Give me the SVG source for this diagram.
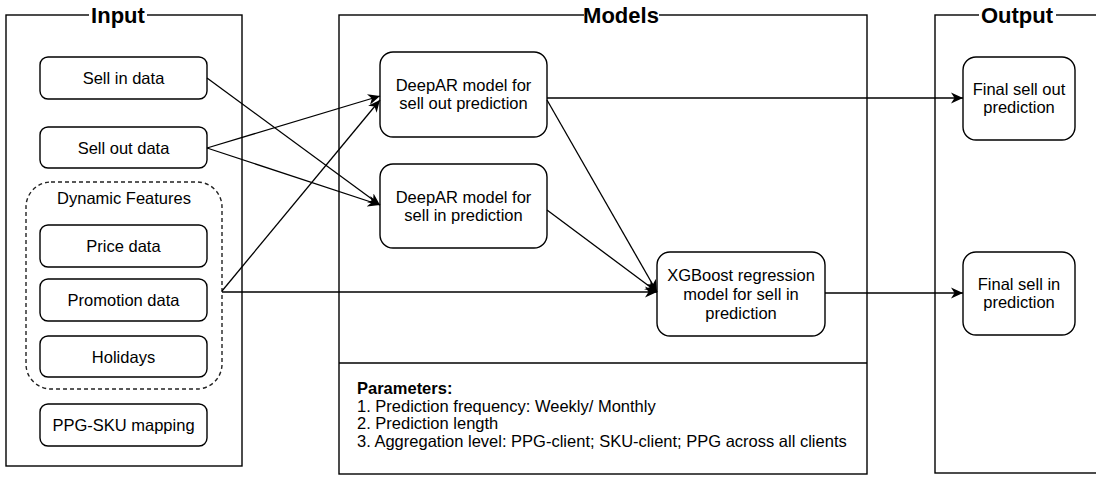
<svg xmlns="http://www.w3.org/2000/svg" width="1096" height="477" viewBox="0 0 1096 477">
<style>
  .frame{fill:#fff;stroke:#000;stroke-width:1.4}
  .box{fill:#fff;stroke:#000;stroke-width:1.4}
  .dash{fill:none;stroke:#222;stroke-width:1.4;stroke-dasharray:4 3}
  .t{font-family:"Liberation Sans",Arial,sans-serif;font-size:16.5px;fill:#000;text-anchor:middle}
  .title{font-family:"Liberation Sans",Arial,sans-serif;font-size:22px;font-weight:bold;fill:#000;text-anchor:middle}
  .p{font-family:"Liberation Sans",Arial,sans-serif;font-size:16.5px;fill:#000}
  .c{fill:none;stroke:#000;stroke-width:1.3}
</style>
<defs>
  <marker id="arr" markerUnits="userSpaceOnUse" markerWidth="14" markerHeight="12" refX="12" refY="6" orient="auto" viewBox="0 0 14 12">
    <path d="M0,0.5 L12,6 L0,11.5 L3.5,6 Z" fill="#000"/>
  </marker>
</defs>
<rect width="1096" height="477" fill="#fff"/>

<g id="input-frame">
  <rect class="frame" x="6" y="15" width="236" height="451"/>
  <rect x="89" y="4" width="58" height="22" fill="#fff"/>
  <text class="title" x="118" y="23">Input</text>
</g>
<g id="models-frame">
  <rect class="frame" x="339" y="15" width="528" height="459"/>
  <line class="frame" x1="339" y1="363" x2="867" y2="363"/>
  <rect x="584" y="4" width="75" height="22" fill="#fff"/>
  <text class="title" x="621" y="23">Models</text>
</g>
<g id="output-frame">
  <rect class="frame" x="935" y="15" width="200" height="458"/>
  <rect x="979" y="4" width="77" height="22" fill="#fff"/>
  <text class="title" x="1017" y="23">Output</text>
</g>

<g id="sell-in-data">
  <rect class="box" x="40" y="57" width="167" height="42" rx="8"/>
  <text class="t" x="123.5" y="84">Sell in data</text>
</g>
<g id="sell-out-data">
  <rect class="box" x="40" y="127" width="167" height="41" rx="8"/>
  <text class="t" x="123.5" y="153.5">Sell out data</text>
</g>
<g id="dynamic-features">
  <rect class="dash" x="26" y="182" width="196" height="207" rx="25"/>
  <text class="t" x="124" y="204">Dynamic Features</text>
</g>
<g id="price-data">
  <rect class="box" x="40" y="225" width="167" height="42" rx="8"/>
  <text class="t" x="123.5" y="252">Price data</text>
</g>
<g id="promotion-data">
  <rect class="box" x="40" y="279" width="167" height="42" rx="8"/>
  <text class="t" x="123.5" y="306">Promotion data</text>
</g>
<g id="holidays">
  <rect class="box" x="40" y="336" width="167" height="41" rx="8"/>
  <text class="t" x="123.5" y="362.5">Holidays</text>
</g>
<g id="ppg-sku-mapping">
  <rect class="box" x="40" y="404" width="167" height="42" rx="8"/>
  <text class="t" x="123.5" y="431">PPG-SKU mapping</text>
</g>

<g id="deepar-sell-out">
  <rect class="box" x="380" y="52" width="167" height="85" rx="13"/>
  <text class="t" x="463.5" y="91">DeepAR model for</text>
  <text class="t" x="463.5" y="109">sell out prediction</text>
</g>
<g id="deepar-sell-in">
  <rect class="box" x="380" y="164" width="167" height="84" rx="13"/>
  <text class="t" x="463.5" y="202.5">DeepAR model for</text>
  <text class="t" x="463.5" y="220.5">sell in prediction</text>
</g>
<g id="xgboost">
  <rect class="box" x="657" y="252" width="168" height="84" rx="13"/>
  <text class="t" x="741" y="281">XGBoost regression</text>
  <text class="t" x="741" y="300">model for sell in</text>
  <text class="t" x="741" y="319">prediction</text>
</g>
<g id="final-sell-out">
  <rect class="box" x="963" y="57" width="112" height="83" rx="13"/>
  <text class="t" x="1019" y="95">Final sell out</text>
  <text class="t" x="1019" y="113">prediction</text>
</g>
<g id="final-sell-in">
  <rect class="box" x="963" y="252" width="112" height="83" rx="13"/>
  <text class="t" x="1019" y="290">Final sell in</text>
  <text class="t" x="1019" y="308">prediction</text>
</g>

<g id="parameters">
  <text class="p" x="357" y="394" font-weight="bold">Parameters:</text>
  <text class="p" x="357" y="411.5">1. Prediction frequency: Weekly/ Monthly</text>
  <text class="p" x="357" y="429">2. Prediction length</text>
  <text class="p" x="357" y="446.5">3. Aggregation level: PPG-client; SKU-client; PPG across all clients</text>
</g>

<g id="connectors">
  <path class="c" d="M207,78 L380,205" marker-end="url(#arr)"/>
  <path class="c" d="M207,148 L380,96" marker-end="url(#arr)"/>
  <path class="c" d="M207,148 L380,205" marker-end="url(#arr)"/>
  <path class="c" d="M222,291 L380,100" marker-end="url(#arr)"/>
  <path class="c" d="M222,292 L657,292" marker-end="url(#arr)"/>
  <path class="c" d="M547,98 L963,98" marker-end="url(#arr)"/>
  <path class="c" d="M547,100 L657,292" marker-end="url(#arr)"/>
  <path class="c" d="M547,210 L657,292" marker-end="url(#arr)"/>
  <path class="c" d="M825,293 L963,293" marker-end="url(#arr)"/>
</g>
</svg>
